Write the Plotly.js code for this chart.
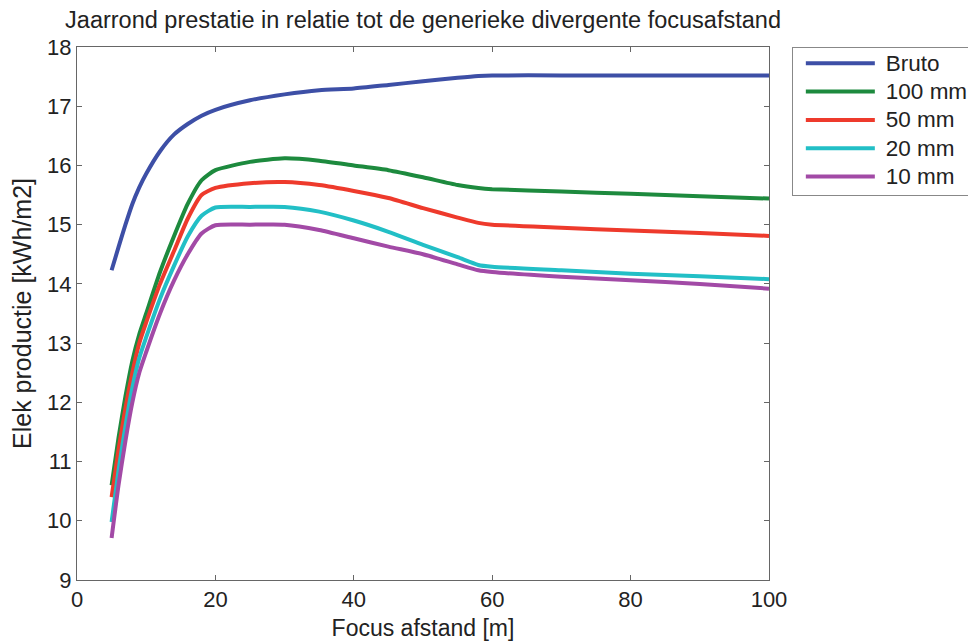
<!DOCTYPE html>
<html>
<head>
<meta charset="utf-8">
<script src="https://cdn.plot.ly/plotly-3.0.1.min.js"></script>
<style>html,body{margin:0;padding:0;background:#fff;}#chart{width:968px;height:643px;}</style>
</head>
<body>
<div id="chart"></div>
<script>
const focusX = [5, 6, 7, 8, 9, 10, 12, 14, 16, 18, 20, 25, 30, 35, 40, 45, 50, 55, 58, 60, 70, 80, 90, 100];
const bruto  = [14.23, 14.62, 15.0, 15.35, 15.63, 15.86, 16.24, 16.52, 16.7, 16.84, 16.94, 17.1, 17.2, 17.27, 17.3, 17.36, 17.42, 17.48, 17.51, 17.52, 17.52, 17.52, 17.52, 17.52];
const mm100  = [10.6, 11.4, 12.1, 12.7, 13.15, 13.5, 14.2, 14.8, 15.35, 15.75, 15.92, 16.06, 16.12, 16.08, 16.0, 15.92, 15.8, 15.67, 15.62, 15.6, 15.56, 15.52, 15.48, 15.44];
const mm50   = [10.4, 11.2, 11.9, 12.5, 13.0, 13.35, 14.0, 14.55, 15.1, 15.5, 15.62, 15.7, 15.72, 15.67, 15.57, 15.45, 15.28, 15.12, 15.03, 15.0, 14.95, 14.9, 14.86, 14.81];
const mm20   = [9.98, 10.85, 11.6, 12.25, 12.75, 13.1, 13.75, 14.3, 14.8, 15.15, 15.29, 15.3, 15.3, 15.22, 15.07, 14.88, 14.66, 14.45, 14.32, 14.29, 14.23, 14.17, 14.13, 14.08];
const mm10   = [9.71, 10.6, 11.35, 12.0, 12.5, 12.85, 13.5, 14.05, 14.5, 14.85, 14.99, 15.0, 15.0, 14.91, 14.77, 14.63, 14.5, 14.33, 14.23, 14.2, 14.12, 14.06, 14.0, 13.92];
const seriesNames = ["Bruto", "100 mm", "50 mm", "20 mm", "10 mm"];
const seriesColors = ["#3d4fa6", "#1d8a3e", "#ee3a2c", "#22bfc6", "#a24aa6"];
const seriesData = [bruto, mm100, mm50, mm20, mm10];
const xTicks = [0, 20, 40, 60, 80, 100];
const yTicks = [9, 10, 11, 12, 13, 14, 15, 16, 17, 18];

const traces = seriesData.map((ys, i) => ({
  x: focusX, y: ys, name: seriesNames[i], type: "scatter", mode: "lines",
  line: {color: seriesColors[i], width: 4, shape: "spline", smoothing: 0.6}
}));

const fontFam = "Liberation Sans, Arial, sans-serif";
const layout = {
  width: 968, height: 643,
  margin: {l: 77, r: 199, t: 47, b: 63, autoexpand: false},
  paper_bgcolor: "#fff", plot_bgcolor: "#fff",
  font: {family: fontFam, size: 22, color: "#222"},
  title: {text: "Jaarrond prestatie in relatie tot de generieke divergente focusafstand",
          x: 0.437, xanchor: "center", y: 0.969, yanchor: "middle",
          font: {family: fontFam, size: 23.5, color: "#222"}},
  showlegend: true,
  legend: {x: 1.033, xanchor: "left", y: 1, yanchor: "top",
           bordercolor: "#888", borderwidth: 1, bgcolor: "#fff",
           font: {family: fontFam, size: 19.5, color: "#222"},
           itemwidth: 83, tracegroupgap: 0},
  xaxis: {range: [0, 100], tickvals: xTicks, ticktext: xTicks.map(String),
          showgrid: false, zeroline: false, showline: true, linecolor: "#666", linewidth: 1,
          mirror: "ticks", ticks: "inside", ticklen: 5, tickcolor: "#666",
          tickfont: {size: 22, color: "#222"},
          title: {text: "Focus afstand [m]", font: {size: 23, color: "#222"}, standoff: 8}},
  yaxis: {range: [9, 18], tickvals: yTicks, ticktext: yTicks.map(String),
          showgrid: false, zeroline: false, showline: true, linecolor: "#666", linewidth: 1,
          mirror: "ticks", ticks: "inside", ticklen: 5, tickcolor: "#666",
          tickfont: {size: 22, color: "#222"},
          title: {text: "Elek productie [kWh/m2]", font: {size: 25, color: "#222"}, standoff: 8}}
};
Plotly.newPlot("chart", traces, layout, {displayModeBar: false, staticPlot: true}).then(gd => {
  gd.querySelectorAll(".legend .legendlines path").forEach(p => p.setAttribute("d", "M13,0h69"));
  gd.querySelectorAll(".legend .legendtext").forEach(t => { t.style.fontSize = "22.5px"; });
  const sb = gd.querySelector(".legend .scrollbox");
  if (sb) sb.setAttribute("transform", "translate(0,-4)");
  const bg = gd.querySelector(".legend .bg");
  if (bg) {
    const h = parseFloat(bg.getAttribute("height")); if (h) bg.setAttribute("height", h - 5);
    const w = parseFloat(bg.getAttribute("width")); if (w) bg.setAttribute("width", w + 40);
  }
  gd.querySelectorAll("clipPath[id^='legend'] rect").forEach(r => {
    const w = parseFloat(r.getAttribute("width")); if (w) r.setAttribute("width", w + 40);
  });
});
</script>
</body>
</html>
